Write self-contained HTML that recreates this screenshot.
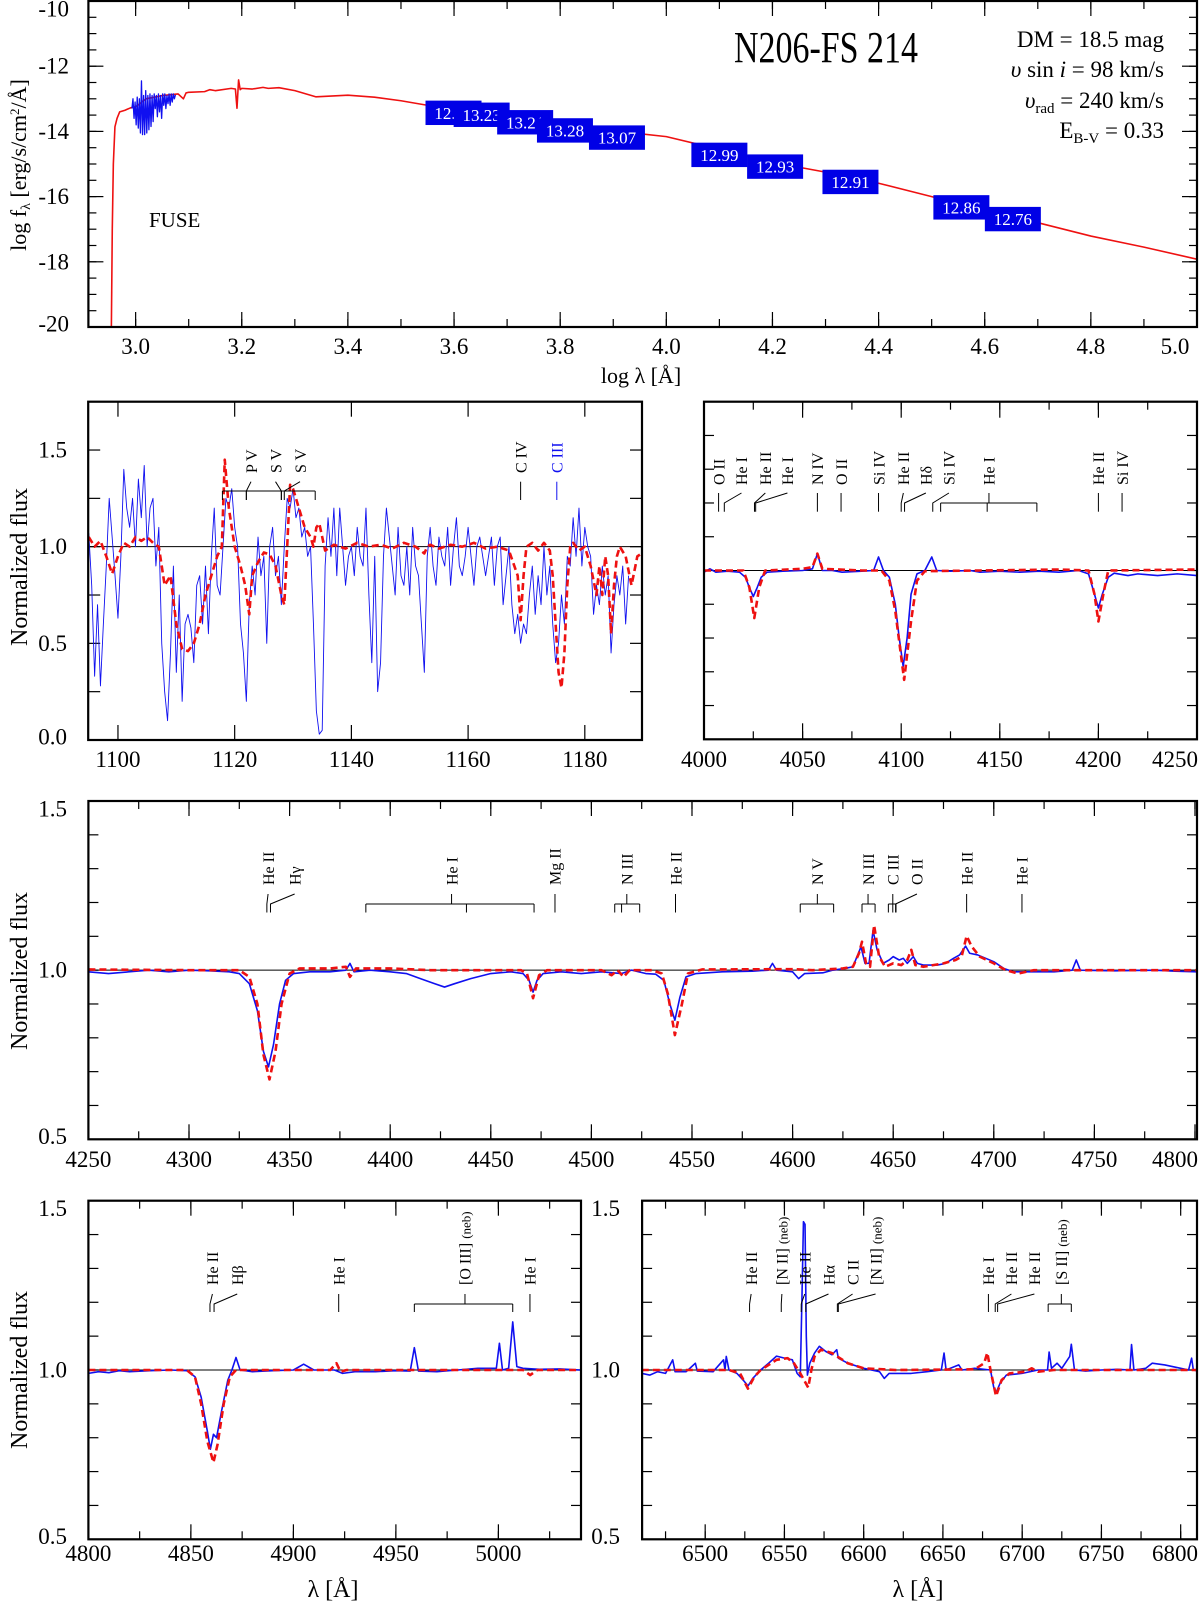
<!DOCTYPE html>
<html><head><meta charset="utf-8">
<style>
html,body{margin:0;padding:0;background:#fff;}
svg{display:block;font-family:"Liberation Serif",serif;}
</style></head>
<body>
<svg id="fig" width="1200" height="1602" viewBox="0 0 1200 1602" xmlns="http://www.w3.org/2000/svg"></svg>
<script>
// ---------- DATA ----------
const sedModelLogLam = [2.954,2.956,2.958,2.961,2.965,2.97,2.98,2.99,3.0,3.02,3.05,3.08,3.09,3.095,3.1,3.13,3.14,3.15,3.18,3.188,3.191,3.194,3.197,3.2,3.22,3.24,3.25,3.27,3.3,3.34,3.4,3.45,3.5,3.6,3.7,3.8,3.9,4.0,4.1,4.2,4.3,4.4,4.5,4.6,4.7,4.8,4.9,5.0];
const sedModelLogF = [-20.5,-17,-15,-13.86,-13.6,-13.4,-13.35,-13.28,-13.24,-13.0,-12.9,-12.85,-13.0,-12.82,-12.8,-12.78,-12.72,-12.75,-12.68,-12.7,-13.29,-12.42,-12.72,-12.68,-12.7,-12.65,-12.68,-12.66,-12.75,-12.94,-12.89,-12.95,-13.06,-13.34,-13.55,-13.77,-13.98,-14.16,-14.55,-14.95,-15.25,-15.59,-16.0,-16.41,-16.8,-17.21,-17.55,-17.92];
const fuseLogLam = [2.993,2.995,2.997,2.999,3.001,3.003,3.005,3.007,3.009,3.011,3.013,3.015,3.017,3.019,3.021,3.023,3.025,3.027,3.029,3.031,3.033,3.035,3.037,3.039,3.041,3.043,3.045,3.047,3.049,3.051,3.053,3.055,3.057,3.059,3.061,3.063,3.065,3.067,3.069,3.071,3.073,3.075];
const fuseLogF = [-13.3,-13.0,-13.6,-13.1,-13.8,-12.95,-13.9,-13.0,-14.05,-12.45,-14.1,-12.9,-14.1,-12.75,-14.05,-12.9,-13.95,-12.85,-13.85,-12.9,-13.7,-12.85,-13.3,-12.9,-13.55,-12.85,-13.4,-12.9,-13.6,-12.85,-13.2,-12.85,-13.3,-12.9,-13.15,-12.85,-13.2,-12.85,-13.1,-12.85,-13.0,-12.88];
const photLogLam = [3.599,3.652,3.734,3.809,3.907,4.100,4.205,4.347,4.556,4.653];
const photLogF = [-13.43,-13.49,-13.72,-13.97,-14.19,-14.72,-15.08,-15.55,-16.33,-16.69];
const photMag = ["12.96","13.23","13.21","13.28","13.07","12.99","12.93","12.91","12.86","12.76"];
const sedXTicks = ["3.0","3.2","3.4","3.6","3.8","4.0","4.2","4.4","4.6","4.8","5.0"];
const sedYTicks = [-10,-12,-14,-16,-18,-20];

// FUV panel (observed on 0.5 Å grid starting 1095)
const fuvObsStart = 1095, fuvObsStep = 0.5;
const fuvObsFlux = [1.07,0.8,0.33,0.7,0.28,0.6,0.9,1.25,1.05,0.85,0.63,0.95,1.4,1.2,1.1,1.25,1.0,1.35,1.15,1.42,1.0,1.2,1.25,0.9,1.1,0.5,0.25,0.1,0.45,0.9,0.35,0.75,0.2,0.6,0.65,0.58,0.4,0.8,0.85,0.6,0.9,0.55,0.95,1.2,0.8,0.75,1.0,1.25,1.2,1.3,1.1,1.0,0.6,0.45,0.2,0.7,0.9,0.75,1.05,0.85,0.95,0.5,1.0,1.1,0.85,0.95,0.7,1.0,1.25,1.2,1.3,1.15,1.2,1.05,1.1,0.95,1.0,0.6,0.15,0.03,0.05,0.9,1.15,0.95,1.2,0.85,1.2,1.0,0.8,0.95,1.0,0.85,1.1,0.95,0.9,1.2,0.75,0.4,0.95,0.25,0.4,0.95,1.2,1.05,0.9,0.75,1.1,0.85,0.8,1.0,0.75,1.1,0.9,0.85,0.6,0.35,0.95,1.1,0.9,0.8,1.05,0.95,0.9,1.1,0.8,1.0,1.15,0.9,0.85,0.95,1.1,0.95,0.8,1.0,1.05,0.95,0.85,0.95,1.05,0.8,1.0,1.05,0.7,0.85,1.0,0.7,0.55,0.65,0.5,0.6,0.55,0.75,0.9,0.65,0.85,0.7,1.0,0.75,0.9,0.6,0.4,0.5,0.75,0.6,0.95,0.9,1.15,0.95,1.2,0.9,1.1,1.0,0.95,0.65,0.8,0.7,0.9,0.75,0.85,0.45,0.7,0.85,0.75,0.9,0.6,0.85];
const fuvModelLam = [1095,1096,1097,1098,1099,1100,1101,1102,1103,1104,1105,1106,1107,1108,1109,1110,1111,1112,1113,1114,1115,1116,1117,1117.8,1118.3,1119,1119.5,1120,1121,1121.8,1122.5,1123,1124,1125,1126,1127,1128,1128.5,1129,1129.5,1130,1131,1132,1133,1133.5,1134,1134.5,1135,1135.5,1137,1139,1141,1143,1145,1147,1149,1151,1152.5,1153,1153.5,1155,1157,1159,1161,1163,1165,1167,1168.5,1169,1169.5,1170,1171,1172,1173,1174,1174.5,1175,1175.5,1176,1176.5,1177,1177.5,1178,1179,1180,1181,1182,1182.5,1183,1183.5,1184,1184.5,1185,1185.5,1186,1187,1188,1189,1190];
const fuvModelFlux = [1.05,1.0,1.03,0.95,0.86,0.95,1.02,1.0,1.05,1.03,1.05,1.02,1.0,0.8,0.85,0.6,0.47,0.46,0.5,0.6,0.75,0.85,0.95,1.0,1.45,1.2,1.1,1.0,0.9,0.8,0.65,0.85,0.92,0.97,0.96,0.9,0.75,0.7,1.0,1.32,1.3,1.2,1.1,1.05,1.0,1.1,1.12,1.05,0.98,1.01,0.99,1.02,1.0,1.01,0.99,1.02,1.0,0.965,1.0,1.01,0.99,1.01,1.0,1.02,0.99,1.0,0.98,0.85,0.62,0.85,1.0,1.02,0.98,1.02,0.98,0.85,0.6,0.35,0.27,0.45,0.8,1.0,1.02,0.98,1.0,0.9,0.75,0.9,0.75,0.95,0.85,0.55,0.8,0.95,1.0,0.95,0.8,0.95,0.97];

const hdObs = [[4000,0.995],[4003,1.005],[4006,0.995],[4012,0.998],[4018,0.995],[4021,0.98],[4023,0.95],[4025,0.923],[4027,0.95],[4029,0.98],[4032,0.995],[4040,0.998],[4050,1.0],[4055,1.005],[4057.5,1.05],[4060,1.0],[4065,1.0],[4070,0.995],[4080,0.998],[4086,1.0],[4088.5,1.04],[4091,1.0],[4094,0.98],[4097,0.9],[4099,0.8],[4101,0.716],[4103,0.8],[4105,0.93],[4108,0.99],[4112,1.0],[4115.5,1.04],[4118,1.0],[4125,0.998],[4135,1.0],[4140,0.995],[4150,0.998],[4160,0.995],[4170,0.998],[4180,0.995],[4190,1.0],[4195,0.99],[4198,0.93],[4200,0.889],[4202,0.93],[4205,0.98],[4208,0.992],[4215,0.985],[4220,0.99],[4230,0.985],[4240,0.99],[4250,0.985]];
const hdModel = [[4000,1.0],[4020,1.0],[4023,0.95],[4025.5,0.859],[4028,0.95],[4031,1.0],[4050,1.005],[4055,1.01],[4057.5,1.05],[4060,1.005],[4080,1.0],[4090,1.0],[4094,0.97],[4097,0.88],[4101.5,0.676],[4105,0.85],[4108,0.97],[4112,0.998],[4140,1.0],[4180,1.003],[4195,1.0],[4198,0.93],[4200,0.849],[4202.5,0.93],[4205,1.0],[4250,1.003]];

const hgObs = [[4250,0.995],[4260,0.99],[4270,0.995],[4280,1.0],[4290,0.995],[4300,1.0],[4310,0.998],[4320,0.995],[4325,0.99],[4330,0.96],[4334,0.88],[4337,0.76],[4339.5,0.714],[4342,0.78],[4345,0.9],[4348,0.97],[4352,0.99],[4360,0.995],[4370,0.995],[4378,1.0],[4380,1.02],[4382,0.995],[4390,1.0],[4400,0.995],[4408,0.99],[4415,0.975],[4422,0.96],[4427,0.95],[4432,0.96],[4440,0.975],[4450,0.99],[4460,0.995],[4466,0.99],[4469,0.97],[4471,0.935],[4473,0.97],[4476,0.99],[4485,0.995],[4495,0.99],[4505,0.995],[4515,0.99],[4520,1.0],[4527,0.99],[4532,0.988],[4536,0.97],[4539,0.9],[4541.5,0.852],[4544,0.92],[4547,0.98],[4552,0.99],[4565,0.995],[4580,0.997],[4588,1.0],[4590,1.02],[4592,1.0],[4600,0.995],[4603,0.975],[4606,0.99],[4615,0.992],[4620,1.0],[4626,1.005],[4630,1.01],[4632,1.04],[4634,1.069],[4636,1.02],[4638,1.02],[4640,1.118],[4642,1.06],[4645,1.02],[4648,1.03],[4650,1.04],[4653,1.03],[4655,1.035],[4657,1.02],[4660,1.04],[4662,1.02],[4665,1.015],[4672,1.015],[4676,1.02],[4680,1.035],[4683,1.045],[4686,1.071],[4688,1.05],[4692,1.045],[4696,1.035],[4700,1.025],[4705,1.005],[4710,0.995],[4720,0.995],[4730,0.995],[4739,1.0],[4741,1.03],[4743,1.0],[4760,0.998],[4780,1.0],[4790,0.997],[4801,0.995]];
const hgModel = [[4250,1.002],[4300,1.0],[4325,1.0],[4330,0.98],[4334,0.9],[4337,0.75],[4340,0.677],[4343,0.76],[4346,0.9],[4350,0.99],[4355,1.005],[4370,1.005],[4378,1.01],[4380,0.98],[4383,1.005],[4400,1.005],[4420,1.0],[4450,1.0],[4465,1.0],[4468,0.99],[4471,0.917],[4474,0.985],[4478,1.0],[4505,1.0],[4510,0.985],[4513,1.0],[4516,0.98],[4519,1.0],[4530,1.0],[4535,0.99],[4538,0.93],[4541.5,0.808],[4545,0.9],[4548,0.99],[4555,1.002],[4600,1.003],[4610,1.0],[4625,1.005],[4630,1.01],[4633,1.05],[4634.5,1.084],[4636.5,1.02],[4638.5,1.01],[4640.5,1.133],[4643,1.04],[4646,1.01],[4650,1.02],[4654,1.015],[4657,1.03],[4659,1.06],[4661,1.015],[4665,1.01],[4675,1.02],[4681,1.03],[4684,1.04],[4686.5,1.101],[4689,1.07],[4693,1.04],[4700,1.02],[4706,1.0],[4712,0.99],[4720,1.0],[4801,1.0]];

const hbObs = [[4800,0.99],[4805,0.995],[4810,0.992],[4815,0.998],[4820,0.995],[4830,0.998],[4840,1.0],[4848,0.998],[4852,0.98],[4855,0.92],[4858,0.82],[4859.5,0.766],[4861,0.81],[4862.5,0.8],[4865,0.88],[4868,0.97],[4870,1.0],[4872,1.037],[4874,1.0],[4880,0.995],[4890,0.998],[4900,1.0],[4905,1.017],[4910,1.0],[4920,1.0],[4924,0.99],[4930,0.995],[4940,0.995],[4950,0.998],[4957,0.997],[4959,1.066],[4961,0.997],[4970,0.995],[4980,1.0],[4990,1.005],[4999,1.005],[5000.5,1.079],[5002,1.0],[5005,1.005],[5007,1.142],[5009,1.01],[5012,1.005],[5020,1.002],[5030,1.003],[5040,1.0]];
const hbModel = [[4800,1.0],[4848,1.0],[4852,0.98],[4855,0.9],[4858,0.79],[4861,0.727],[4863,0.78],[4866,0.9],[4869,0.98],[4872,1.0],[4918,1.0],[4921,1.02],[4923,0.995],[4926,1.0],[5012,1.0],[5015.5,0.985],[5019,1.0],[5040,1.0]];

const haObs = [[6460,0.99],[6465,0.985],[6470,0.995],[6475,0.99],[6479.5,1.03],[6481,0.995],[6488,0.995],[6493.8,1.02],[6495,0.997],[6505,0.995],[6511.6,1.03],[6512.5,1.0],[6513.3,1.04],[6515,1.0],[6520,0.99],[6524,0.97],[6527,0.953],[6530,0.975],[6535,1.0],[6540,1.02],[6545,1.041],[6550,1.035],[6555,1.03],[6558,0.99],[6560,0.98],[6561,1.2],[6562,1.438],[6563,1.43],[6563.8,1.1],[6564.5,0.985],[6566,1.02],[6569,1.05],[6572,1.07],[6576,1.055],[6580,1.045],[6583,1.06],[6584,1.035],[6590,1.02],[6600,1.005],[6610,0.995],[6613,0.975],[6616,0.99],[6630,0.99],[6640,0.995],[6649,1.0],[6650.7,1.05],[6652,1.0],[6660,1.015],[6662,1.0],[6670,1.005],[6680,1.0],[6682,0.95],[6683.5,0.933],[6686,0.96],[6690,0.985],[6700,0.99],[6710,1.0],[6716,1.0],[6717,1.053],[6718.5,1.005],[6722,1.02],[6725,1.005],[6730,1.04],[6731,1.076],[6733,1.0],[6740,0.997],[6750,1.0],[6760,1.002],[6768,1.0],[6769,1.075],[6770.5,1.0],[6778,1.005],[6782,1.02],[6790,1.015],[6800,1.005],[6805,1.0],[6806.9,1.035],[6808,1.0],[6810,0.998]];
const haModel = [[6460,1.0],[6515,1.0],[6522,0.99],[6527,0.945],[6531,0.98],[6535,1.0],[6540,1.015],[6545,1.03],[6552,1.035],[6556,1.02],[6560,0.99],[6563,0.965],[6565,0.948],[6567,1.0],[6569,1.04],[6573,1.06],[6580,1.05],[6590,1.02],[6600,1.005],[6620,1.0],[6670,1.002],[6676,1.02],[6678,1.051],[6680,1.0],[6683.5,0.923],[6687,0.97],[6692,0.99],[6702,0.995],[6706,1.005],[6710,0.995],[6720,1.0],[6810,1.0]];

// ---------- LAYOUT ----------
const NS = "http://www.w3.org/2000/svg";
const svg = document.getElementById("fig");
const BLUE = "#1010f0", RED = "#ee1111";
function mk(tag, parent){ const e = document.createElementNS(NS, tag); parent.appendChild(e); return e; }
function set(e, o){ for (const k in o) e.setAttribute(k, o[k]); return e; }

const P = {
  sed:{x0:88.4,x1:1197,y0:1,y1:327,xd:[2.911,5.0],yd:[-20,-10]},
  fuv:{x0:88.2,x1:642,y0:401.7,y1:740,xd:[1094.9,1189.8],yd:[0,1.75]},
  hd:{x0:704,x1:1197,y0:401.7,y1:739.3,xd:[4000,4250],yd:[0.5,1.5]},
  hg:{x0:88.4,x1:1197,y0:801,y1:1139.3,xd:[4250,4801],yd:[0.5,1.5]},
  hb:{x0:88.4,x1:581,y0:1200.7,y1:1539.3,xd:[4800,5040.3],yd:[0.5,1.5]},
  ha:{x0:642.1,x1:1197,y0:1200.7,y1:1539.3,xd:[6460.2,6810.3],yd:[0.5,1.5]}
};
function sx(p,v){ return p.x0 + (v - p.xd[0]) / (p.xd[1]-p.xd[0]) * (p.x1-p.x0); }
function sy(p,v){ return p.y1 - (v - p.yd[0]) / (p.yd[1]-p.yd[0]) * (p.y1-p.y0); }

let clipN = 0;
function panel(name, p){
  const g = mk("g", svg);
  
  
  const cp = mk("clipPath", g); cp.id = "clip" + (clipN++);
  set(mk("rect", cp), {x:p.x0, y:p.y0, width:p.x1-p.x0, height:p.y1-p.y0});
  p.clip = "url(#" + cp.id + ")";
  p.g = g;
  return g;
}
function frame(p, name){
  const r = mk("rect", p.g);
  set(r, {x:p.x0, y:p.y0, width:p.x1-p.x0, height:p.y1-p.y0, fill:"none", stroke:"#000", "stroke-width":2.2});
  
  
}
function xticks(p, start, end, step, len){
  for (let v = start; v <= end + 1e-9; v += step){
    const x = sx(p, v);
    if (x < p.x0 - 0.5 || x > p.x1 + 0.5) continue;
    set(mk("line", p.g), {x1:x, x2:x, y1:p.y1, y2:p.y1-len, stroke:"#000", "stroke-width":1.2});
    set(mk("line", p.g), {x1:x, x2:x, y1:p.y0, y2:p.y0+len, stroke:"#000", "stroke-width":1.2});
  }
}
function yticks(p, start, end, step, len){
  for (let v = start; v <= end + 1e-9; v += step){
    const y = sy(p, v);
    if (y < p.y0 - 0.5 || y > p.y1 + 0.5) continue;
    set(mk("line", p.g), {x1:p.x0, x2:p.x0+len, y1:y, y2:y, stroke:"#000", "stroke-width":1.2});
    set(mk("line", p.g), {x1:p.x1, x2:p.x1-len, y1:y, y2:y, stroke:"#000", "stroke-width":1.2});
  }
}
function xlabels(p, labels, baseline){
  labels.forEach(s => {
    let x = sx(p, parseFloat(s));
    if (x > 1175) x = 1175;
    const t = mk("text", p.g);
    set(t, {x:x, y:baseline, "text-anchor":"middle", "font-size":23});
    t.textContent = s;
    
    
  });
}
function ylabels(p, labels, xr){
  labels.forEach(s => {
    let y = sy(p, parseFloat(s));
    y = Math.max(p.y0 + 8, Math.min(p.y1 - 3, y));
    const t = mk("text", p.g);
    set(t, {x:xr, y:y + 7.5, "text-anchor":"end", "font-size":23});
    t.textContent = s;
    
    
  });
}
function refline(p){
  const l = mk("line", p.g);
  set(l, {x1:p.x0, x2:p.x1, y1:sy(p,1), y2:sy(p,1), stroke:"#000", "stroke-width":1});
  
  
}
function series(p, pts, color, w, dash, name){
  const d = pts.map((q,i) => (i?"L":"M") + sx(p,q[0]).toFixed(2) + " " + sy(p,q[1]).toFixed(2)).join(" ");
  const path = mk("path", p.g);
  set(path, {d:d, fill:"none", stroke:color, "stroke-width":w, "stroke-linejoin":"round", "clip-path":p.clip});
  if (dash) path.setAttribute("stroke-dasharray", dash);
  
  
}
function vtext(g, x, y, parts, color, fs){
  const t = mk("text", g);
  set(t, {transform:"translate(" + x + "," + y + ") rotate(-90)", "text-anchor":"start", dy:"0.36em", "font-size":fs||16, fill:color||"#000"});
  parts.forEach(pt => {
    const s = mk("tspan", t);
    if (pt[1]) s.setAttribute("font-size", pt[1]);
    s.textContent = pt[0];
  });
  
  
  return t;
}
function annotate(p, anns, brackets, lv){
  anns.forEach(a => {
    const lx = sx(p, a[1]), tx = sx(p, a[2]);
    vtext(p.g, lx, lv.yb, a[0], a[4]);
    const pts = a[3] ? [[lx,lv.yl],[tx,lv.ym]] : (Math.abs(lx-tx) < 0.6 ? [[lx,lv.yl],[lx,lv.ye]] : [[lx,lv.yl],[tx,lv.ym],[tx,lv.ye]]);
    const pl = mk("polyline", p.g);
    set(pl, {points:pts.map(q=>q.join(",")).join(" "), fill:"none", stroke:a[4]||"#000", "stroke-width":1});
    
    
  });
  brackets.forEach(b => {
    const xs = b.map(v => sx(p, v));
    const pl = mk("path", p.g);
    let d = "M" + xs[0] + " " + lv.ym + " L" + xs[xs.length-1] + " " + lv.ym;
    xs.forEach(x => { d += " M" + x + " " + lv.ym + " L" + x + " " + lv.ye; });
    set(pl, {d:d, fill:"none", stroke:"#000", "stroke-width":1});
    
    
  });
}
function ytitle(x, y, txt){
  const t = mk("text", svg);
  set(t, {transform:"translate(" + x + "," + y + ") rotate(-90)", "text-anchor":"middle", "font-size":24});
  t.textContent = txt;
  
  
}
function xtitle(x, y){
  const t = mk("text", svg);
  set(t, {x:x, y:y, "text-anchor":"middle", "font-size":24});
  t.textContent = "λ [Å]";
  
  
}

// ---------- SED PANEL ----------
{
  const p = P.sed; panel("sed", p);
  xticks(p, 2.9, 5.0, 0.1, 8); xticks(p, 3.0, 5.0, 0.2, 15);
  yticks(p, -20, -10, 0.5, 8); yticks(p, -20, -10, 2, 15);
  series(p, sedModelLogLam.map((v,i)=>[v, sedModelLogF[i]]), RED, 1.6, null, "sed-model-line");
  series(p, fuseLogLam.map((v,i)=>[v, fuseLogF[i]]), BLUE, 1.3, null, "fuse-spectrum-line");
  photLogLam.forEach((v,i) => {
    const cx = sx(p, v), cy = sy(p, photLogF[i]);
    const r = mk("rect", p.g);
    set(r, {x:cx-28, y:cy-12.2, width:56, height:24.4, fill:"#0000e6"});
    
    
    const t = mk("text", p.g);
    set(t, {x:cx, y:cy+6, "text-anchor":"middle", "font-size":17, fill:"#fff"});
    t.textContent = photMag[i];
    
    
  });
  frame(p, "sed");
  xlabels(p, sedXTicks, 354);
  ylabels(p, sedYTicks.map(String), 69);
  const title = mk("text", svg);
  set(title, {x:826, y:62, "text-anchor":"middle", "font-size":44, textLength:184, lengthAdjust:"spacingAndGlyphs"});
  title.textContent = "N206-FS 214";
  
  
  const info = [
    [["DM = 18.5 mag"]],
    [["υ","i"],[" sin "],["i","i"],[" = 98 km/s"]],
    [["υ","i"],["rad","sub"],[" = 240 km/s"]],
    [["E"],["B-V","sub"],["  = 0.33"]]
  ];
  const base = [47, 77, 108, 138];
  info.forEach((parts, k) => {
    const t = mk("text", svg);
    set(t, {x:1164, y:base[k], "text-anchor":"end", "font-size":23});
    parts.forEach(pt => {
      const s = mk("tspan", t);
      s.textContent = pt[0];
      if (pt[1] === "i") s.setAttribute("font-style", "italic");
      if (pt[1] === "sub"){ s.setAttribute("font-size", 15); s.setAttribute("dy", 5); }
      else if (k >= 2 && s.previousSibling) s.setAttribute("dy", -5);
    });
    
    
  });
  const fuse = mk("text", svg);
  set(fuse, {x:149, y:227, "font-size":21});
  fuse.textContent = "FUSE";
  
  
  const yt = mk("text", svg);
  set(yt, {transform:"translate(26,165) rotate(-90)", "text-anchor":"middle", "font-size":22});
  const a = mk("tspan", yt); a.textContent = "log f";
  const b = mk("tspan", yt); b.textContent = "λ"; set(b, {"font-size":14, dy:4});
  const c = mk("tspan", yt); c.textContent = " [erg/s/cm"; c.setAttribute("dy", -4);
  const d = mk("tspan", yt); d.textContent = "2"; set(d, {"font-size":13, dy:-7});
  const e = mk("tspan", yt); e.textContent = "/Å]"; e.setAttribute("dy", 7);
  
  
  const xt = mk("text", svg);
  set(xt, {x:641, y:383, "text-anchor":"middle", "font-size":22});
  xt.textContent = "log λ [Å]";
  
  
}

// ---------- FUV PANEL ----------
{
  const p = P.fuv; panel("fuv", p);
  xticks(p, 1100, 1180, 20, 15);
  yticks(p, 0, 1.75, 0.25, 12);
  refline(p);
  series(p, fuvObsFlux.map((f,i)=>[fuvObsStart + i*fuvObsStep, f]), BLUE, 0.9, null, "fuv-observed-line");
  series(p, fuvModelLam.map((v,i)=>[v, fuvModelFlux[i]]), RED, 2.6, "7 4", "fuv-model-line");
  annotate(p, [
    [[["P V"]],1122.8,1122,false],
    [[["S V"]],1127.0,1128,false],
    [[["S V"]],1131.2,1128.5,false],
    [[["C IV"]],1169,1169,false],
    [[["C III"]],1175.2,1175.2,false,BLUE]
  ], [[1117.9,1122,1128,1133.8]], {yb:473, yl:481.7, ym:491, ye:500});
  frame(p, "fuv");
  xlabels(p, ["1100","1120","1140","1160","1180"], 767);
  ylabels(p, ["0.0","0.5","1.0","1.5"], 67);
}

// ---------- H-delta PANEL ----------
{
  const p = P.hd; panel("hdelta", p);
  xticks(p, 4000, 4250, 25, 8); xticks(p, 4000, 4250, 50, 16);
  yticks(p, 0.5, 1.5, 0.1, 10);
  refline(p);
  series(p, hdObs, BLUE, 1.6, null, "hdelta-observed-line");
  series(p, hdModel, RED, 2.6, "7 4", "hdelta-model-line");
  annotate(p, [
    [[["O II"]],4007.4,4007.4,false],
    [[["He I"]],4019.0,4010.3,false],
    [[["He II"]],4031.1,4025.6,false],
    [[["He I"]],4042.3,4026.2,false],
    [[["N IV"]],4057.5,4057.5,false],
    [[["O II"]],4069.5,4069.5,false],
    [[["Si IV"]],4088.5,4088.5,false],
    [[["He II"]],4101.1,4100.0,false],
    [[["Hδ"]],4112.5,4101.7,false],
    [[["Si IV"]],4124.2,4116,false],
    [[["He I"]],4144.5,4144.5,true],
    [[["He II"]],4200,4200,false],
    [[["Si IV"]],4212,4212,false]
  ], [[4120,4143.6,4168.8]], {yb:485, yl:493, ym:503, ye:511.7});
  frame(p, "hdelta");
  xlabels(p, ["4000","4050","4100","4150","4200","4250"], 767);
}

// ---------- H-gamma PANEL ----------
{
  const p = P.hg; panel("hgamma", p);
  xticks(p, 4250, 4800, 25, 8); xticks(p, 4250, 4800, 50, 15);
  yticks(p, 0.5, 1.5, 0.1, 10);
  refline(p);
  series(p, hgObs, BLUE, 1.6, null, "hgamma-observed-line");
  series(p, hgModel, RED, 2.6, "7 4", "hgamma-model-line");
  annotate(p, [
    [[["He II"]],4339.3,4338.7,false],
    [[["Hγ"]],4352.5,4340.5,false],
    [[["He I"]],4430.5,4430.5,true],
    [[["Mg II"]],4481.9,4481.9,false],
    [[["N III"]],4517.6,4517.6,true],
    [[["He II"]],4541.8,4541.8,false],
    [[["N V"]],4612.3,4612.3,true],
    [[["N III"]],4637.5,4637.5,true],
    [[["C III"]],4649.8,4649.8,false],
    [[["O II"]],4661.8,4651.2,false],
    [[["He II"]],4686.5,4686.5,false],
    [[["He I"]],4714,4714,false]
  ], [[4387.9,4437.9,4471.5],[4511.6,4515,4524],[4603.8,4620.4],[4634.5,4641],[4647.6,4651.4]], {yb:885, yl:894, ym:904, ye:912.5});
  frame(p, "hgamma");
  xlabels(p, ["4250","4300","4350","4400","4450","4500","4550","4600","4650","4700","4750","4800"], 1167);
  ylabels(p, ["0.5","1.0","1.5"], 67);
}

// ---------- H-beta PANEL ----------
{
  const p = P.hb; panel("hbeta", p);
  xticks(p, 4800, 5040, 25, 8); xticks(p, 4800, 5040, 50, 15);
  yticks(p, 0.5, 1.5, 0.1, 10);
  refline(p);
  series(p, hbObs, BLUE, 1.6, null, "hbeta-observed-line");
  series(p, hbModel, RED, 2.6, "7 4", "hbeta-model-line");
  annotate(p, [
    [[["He II"]],4860.5,4859.3,false],
    [[["Hβ"]],4872.6,4861.3,false],
    [[["He I"]],4922.1,4922.1,false],
    [[["[O III] "],["(neb)",13]],4983.7,4983.7,true],
    [[["He I"]],5015.4,5015.4,false]
  ], [[4959,5007]], {yb:1285, yl:1294, ym:1304, ye:1312});
  frame(p, "hbeta");
  xlabels(p, ["4800","4850","4900","4950","5000"], 1561);
  ylabels(p, ["0.5","1.0","1.5"], 67);
}

// ---------- H-alpha PANEL ----------
{
  const p = P.ha; panel("halpha", p);
  xticks(p, 6475, 6800, 25, 8); xticks(p, 6500, 6800, 50, 15);
  yticks(p, 0.5, 1.5, 0.1, 10);
  refline(p);
  series(p, haObs, BLUE, 1.6, null, "halpha-observed-line");
  series(p, haModel, RED, 2.6, "7 4", "halpha-model-line");
  annotate(p, [
    [[["He II"]],6529,6528,false],
    [[["[N II] "],["(neb)",13]],6548.4,6548,false],
    [[["He II"]],6562.8,6560.6,false],
    [[["Hα"]],6577.8,6563.5,false],
    [[["C II"]],6593,6583.4,false],
    [[["[N II] "],["(neb)",13]],6607.5,6584,false],
    [[["He I"]],6678.7,6678.5,false],
    [[["He II"]],6693.2,6683,false],
    [[["He II"]],6707.7,6684.5,false],
    [[["[S II] "],["(neb)",13]],6724.7,6724.7,true]
  ], [[6716.4,6731]], {yb:1285, yl:1294, ym:1304, ye:1312});
  frame(p, "halpha");
  xlabels(p, ["6500","6550","6600","6650","6700","6750","6800"], 1561);
  ylabels(p, ["0.5","1.0","1.5"], 620);
}

ytitle(27, 567, "Normalized flux");
ytitle(27, 971, "Normalized flux");
ytitle(27, 1370, "Normalized flux");
xtitle(333, 1597);
xtitle(918, 1597);
</script>
</body></html>
